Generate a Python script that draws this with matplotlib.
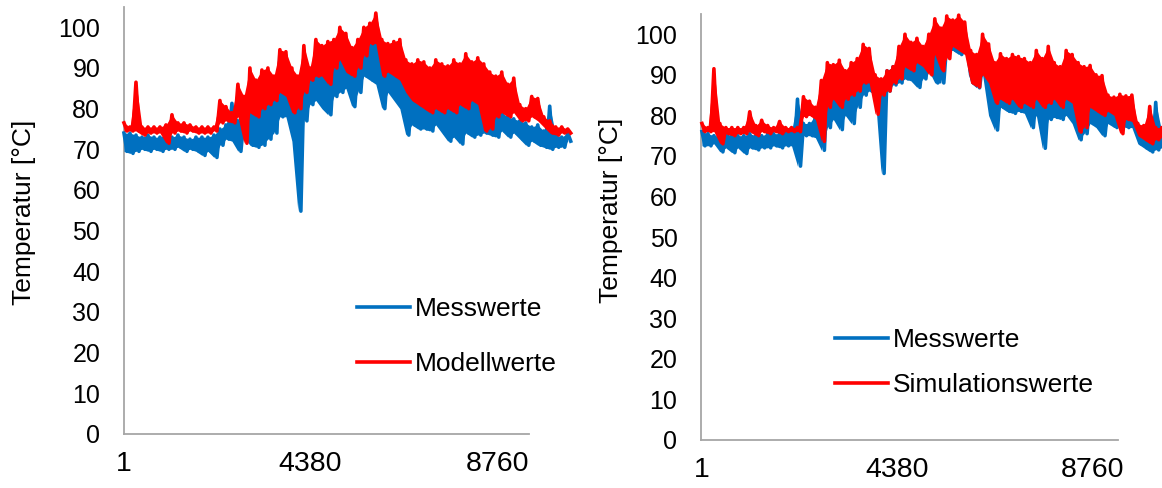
import numpy as np
import matplotlib.pyplot as plt

plt.rcParams['font.family'] = ['Liberation Sans', 'DejaVu Sans']

# Stundenwerte als obere/untere Huellkurve, je Paar im festen Abstand abgelesen
# Links: Messwerte vs. Modellwerte
mess_l_oben = [74, 74, 73.5, 73, 73.5, 73, 73, 73.5, 73, 73.5, 73, 72.5, 73, 73, 73, 73.5,
               75, 76, 81.3, 77, 78, 80, 82, 84, 85, 86, 93.8, 87, 86, 82, 86, 88, 90, 90,
               89, 91, 92, 91, 89, 91, 95, 97, 96.5, 92, 91, 90, 88, 87, 84, 85, 84, 82, 83,
               84, 82.5, 83, 82, 84, 83, 83.5, 79, 80, 81.5, 79, 78, 77.5, 77, 76.5, 75.5,
               76, 74.5, 80.6, 73.5, 73, 74]
mess_l_unten = [69.5, 69, 69.5, 70, 69.5, 70, 69.5, 70, 70, 70.5, 69.5, 70, 69.5, 68.5, 69.5,
                68, 71, 72.5, 72, 69.5, 73, 71, 70.5, 71, 72.5, 74, 78, 78, 72, 54.8, 77, 81,
                82, 80, 78.5, 83, 84, 85, 80.5, 84, 88, 87, 86, 80, 84, 82, 80, 73.5, 76, 75,
                75, 74.5, 76, 74, 72, 73, 71.3, 74, 73, 73.5, 74, 73.5, 73, 74.5, 73, 74,
                72.5, 71, 72, 71, 70.5, 70, 70.5, 70.5, 72]
modell_oben = [76.5, 75.5, 86.5, 75.5, 75.5, 75.5, 75.5, 76, 78.5, 76.5, 76.5, 76, 75.5, 75.5,
               75.5, 75.5, 82, 80.5, 79, 86, 83, 90, 87, 89.5, 90, 88, 94.5, 94, 90, 88, 95.5,
               90, 97, 95.5, 96.5, 97, 100, 98.5, 95, 97, 100, 101, 103.5, 97, 96, 96.5, 97,
               92, 91, 92, 91.5, 90, 92, 91, 90.5, 92, 91, 93.5, 91.5, 92.5, 91, 89, 88, 89,
               86, 87.5, 81, 80, 83, 82.5, 78, 77, 75.5, 75.5, 75]
modell_unten = [74.5, 74.5, 74.5, 73.5, 74, 74, 74, 71.5, 74, 74.5, 74, 74.5, 74, 74, 74, 74.5,
                76.5, 77, 76.5, 78, 71.5, 79, 78, 80, 81, 82, 84, 83, 79, 80, 84, 87, 88, 88,
                86, 90, 92, 89, 88, 90, 93, 96, 96, 88, 89, 88, 87, 84, 82, 81, 80, 79, 80,
                79, 80, 79, 81, 80, 82, 81, 74.5, 75, 78, 79, 78, 79, 77, 77, 78, 77, 75.5,
                74, 73.5, 74, 74]

# Rechts: Messwerte vs. Simulationswerte
mess_r_oben = [76, 75.5, 75, 75, 75.5, 75, 75, 75, 75.5, 75, 75, 75.5, 75.5, 75.5, 76, 76, 84,
               78, 78, 80, 84, 88, 88, 87, 89, 88, 90, 92, 93, 87, 88, 91, 92, 93, 96, 95,
               94.5, 94, 96, 98, 97, 98, 98.5, 97.5, 97, 90, 89, 93, 93, 88.7, 87, 86, 86.5,
               85, 85.5, 85, 86, 84.5, 84, 85, 84, 85.5, 85, 81, 82, 84, 82, 81, 82, 81, 80,
               80.5, 80, 76, 75.5, 75.5, 83.2, 76]
mess_r_unten = [72.5, 72.5, 73, 71, 72, 70.8, 72, 70.6, 72, 71.5, 72, 72, 72.5, 72, 72.5, 72.5,
                67.5, 75, 75, 74.5, 71.4, 77, 79, 76.5, 80, 78, 82, 85, 86, 85, 65.7, 86, 87.5,
                88, 89, 88.5, 86.9, 89, 91, 88, 88, 96, 96, 95, 96, 88, 86.8, 90, 80, 76.4,
                82, 81, 80.5, 81, 80.5, 77, 80, 71.9, 79, 79.5, 79, 80, 78, 74, 75.5, 78, 77,
                75, 78, 77, 77.5, 77, 77, 73, 72, 71, 71.5, 72]
simu_oben = [78, 77, 91.5, 78, 77, 77, 77, 77, 80.9, 77.5, 78.8, 77.5, 77, 78.5, 77, 77, 77,
             84.6, 83.5, 82, 88.6, 93, 92.5, 93.6, 91, 93, 94, 97.5, 96.5, 90, 89, 91, 92, 97,
             100, 98, 99, 97, 100, 103.8, 101.5, 104.5, 103.5, 104.7, 103, 96, 95, 100, 97.6,
             93, 95.2, 94, 95, 94.5, 94, 93, 96, 94, 97, 93, 92, 96, 95, 93, 92, 92.3, 90,
             89.8, 85, 84.5, 85.2, 84.8, 85, 78, 77.5, 82.2, 77, 77]
simu_unten = [76, 76, 76, 73, 75.5, 75, 75.5, 75.5, 76, 75, 76, 75.5, 76, 75.5, 76, 76, 76,
              79.7, 80, 79, 73.6, 82, 84, 82, 84, 85, 86, 88, 88, 80.3, 85, 86, 88, 89, 92,
              91, 93, 92, 90, 95, 91, 94, 97, 96, 95, 88, 87, 90, 88, 83, 84, 83, 84, 82, 83,
              82, 84, 82, 83, 84, 82, 84, 83, 75.9, 77, 82, 81, 80, 81, 80, 75.5, 79, 78.5,
              75, 74, 73, 74, 74.5]

# Abstand der Stuetzstellen in Stunden (je Panel)
dt_links = 70.4
dt_rechts = 67.0

blau = '#0070C0'
rot = '#FF0000'
grau = '#A6A6A6'


def zickzack(oben, unten):
    # obere und untere Werte abwechselnd zu einer Stundenreihe zusammenfuegen
    return np.column_stack([oben, unten]).ravel()


def band(ax, oben, unten, dt, farbe, name, z):
    y = zickzack(oben, unten)
    t = 1 + dt * np.arange(len(y))
    # schnelle Schwankungen: Flaeche zwischen den Huellkurven fuellen
    ax.fill_between(t[::2], unten, oben, color=farbe, lw=0, clip_on=False, zorder=z)
    ax.plot(t, y, color=farbe, lw=2.6, label=name, clip_on=False, zorder=z)


def panel(ax, mess_o, mess_u, mod_o, mod_u, dt, name2, xlim, leg_pos, leg_space):
    band(ax, mess_o, mess_u, dt, blau, 'Messwerte', 3)
    band(ax, mod_o, mod_u, dt, rot, name2, 4)
    ax.set_xlim(*xlim)
    ax.set_ylim(0, 105)
    ax.set_yticks(np.arange(0, 101, 10))
    ax.set_xticks([1, 4380, 8760])
    ax.tick_params(axis='y', length=0, pad=17, labelsize=18)
    ax.tick_params(axis='x', length=0, pad=12, labelsize=20.5)
    for s in ['top', 'right']:
        ax.spines[s].set_visible(False)
    for s in ['left', 'bottom']:
        ax.spines[s].set_color(grau)
        ax.spines[s].set_linewidth(1.3)
    ax.set_ylabel('Temperatur [°C]', fontsize=19)
    ax.legend(loc='upper left', bbox_to_anchor=leg_pos, frameon=False, fontsize=19,
              handlelength=2.0, handletextpad=0.2, borderpad=0, borderaxespad=0,
              labelspacing=leg_space)


fig = plt.figure(figsize=(11.62, 4.88), dpi=100)
ax1 = fig.add_axes([0.1067, 0.1107, 0.3485, 0.875])
ax2 = fig.add_axes([0.6033, 0.0984, 0.3589, 0.873])

panel(ax1, mess_l_oben, mess_l_unten, modell_oben, modell_unten, dt_links,
      'Modellwerte', (1, 9510), (0.575, 0.321), 1.18)
panel(ax2, mess_r_oben, mess_r_unten, simu_oben, simu_unten, dt_rechts,
      'Simulationswerte', (-20, 9340), (0.321, 0.263), 0.8)

ax1.yaxis.set_label_coords(-0.217, 0.518)
ax2.yaxis.set_label_coords(-0.187, 0.54)

fig.savefig('out.png', dpi=100)
